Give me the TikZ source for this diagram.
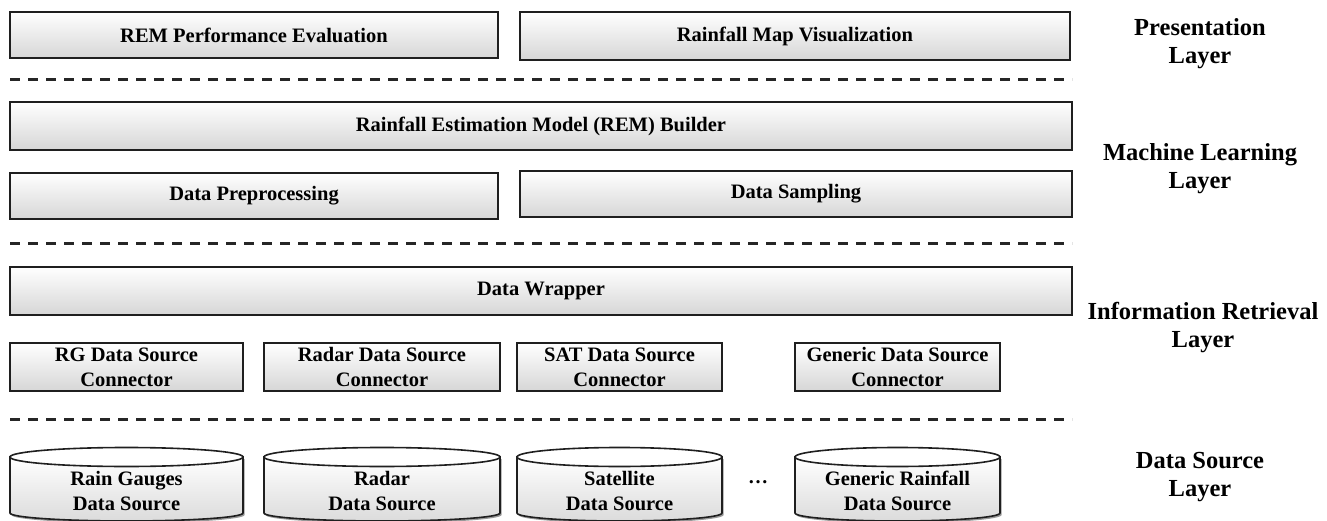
\documentclass[tikz,border=0pt]{standalone}
\usepackage{fontspec}
\setmainfont{Liberation Serif}
\usetikzlibrary{shadows}
\begin{document}
\begin{tikzpicture}[x=1pt,y=-1pt,
  box/.style={draw=black!88, line width=2.2pt, top color=white, bottom color=black!16,
    drop shadow={shadow xshift=1.2pt, shadow yshift=-1.2pt, fill=black!45, opacity=0.8},
    inner sep=0pt, align=center, font=\fontsize{20.5}{25}\selectfont\bfseries},
  cylnode/.style={inner sep=0pt, align=center, font=\fontsize{20.5}{25}\selectfont\bfseries},
  cylbody/.style={draw=black!88, line width=1.6pt, top color=white, bottom color=black!14},
  cyltop/.style={draw=black!88, line width=1.6pt, fill=white},
  sep/.style={line width=3pt, black!85, dash pattern=on 10pt off 8pt},
  layer/.style={align=center, font=\fontsize{24.5}{28}\selectfont\bfseries},
  dots/.style={font=\fontsize{20}{22}\selectfont\bfseries}]
\useasboundingbox (0,0) rectangle (1327,521);

% Presentation layer
\node[box, minimum width=488pt, minimum height=46pt] (pe) at (254,35) {REM Performance Evaluation};
\node[box, minimum width=550pt, minimum height=48pt] (rmv) at (795,36) {Rainfall Map Visualization};
\coordinate (d1a) at (10,80); \coordinate (d1b) at (1072,80);
\draw[sep] (d1a) -- (d1b);

% Machine learning layer
\node[box, minimum width=1062pt, minimum height=48pt] (rem) at (541,126) {Rainfall Estimation Model (REM) Builder};
\node[box, minimum width=488pt, minimum height=46pt] (dp) at (254,196) {Data Preprocessing};
\node[box, minimum width=552pt, minimum height=46pt] (ds) at (796,194) {Data Sampling};
\coordinate (d2a) at (10,244); \coordinate (d2b) at (1072,244);
\draw[sep] (d2a) -- (d2b);

% Information retrieval layer
\node[box, minimum width=1062pt, minimum height=48pt] (dw) at (541,291) {Data Wrapper};
\node[box, minimum width=233pt, minimum height=48pt] (rgc) at (126.5,367) {RG Data Source\\Connector};
\node[box, minimum width=236pt, minimum height=48pt] (rdc) at (382,367) {Radar Data Source\\Connector};
\node[box, minimum width=205pt, minimum height=48pt] (satc) at (619.5,367) {SAT Data Source\\Connector};
\node[box, minimum width=205pt, minimum height=48pt] (genc) at (897.5,367) {Generic Data Source\\Connector};
\coordinate (d3a) at (10,419); \coordinate (d3b) at (1072,419);
\draw[sep] (d3a) -- (d3b);

% Data source layer (cylinders)
\foreach \n/\cx/\w in {rgs/126.5/233, rds/382/236, sats/619.5/205, gens/897.5/205}{
  \pgfmathsetmacro{\hw}{\w/2}
  \fill[black!40] (\cx-\hw+1.5,459) -- (\cx-\hw+1.5,515) arc[start angle=180, end angle=0, x radius=\hw, y radius=8]
     -- (\cx+\hw+1.5,459) -- cycle;
  \path[cylbody] (\cx-\hw,457) -- (\cx-\hw,513) arc[start angle=180, end angle=0, x radius=\hw, y radius=8]
     -- (\cx+\hw,457) -- cycle;
  \draw[cyltop] (\cx,457) ellipse[x radius=\hw, y radius=9.5];
}
\node[cylnode] (rgs) at (126.5,491) {Rain Gauges\\Data Source};
\node[cylnode] (rds) at (382,491) {Radar\\Data Source};
\node[cylnode] (sats) at (619.5,491) {Satellite\\Data Source};
\node[dots] (ell) at (758,482) {\dots};
\node[cylnode] (gens) at (897.5,491) {Generic Rainfall\\Data Source};

% Layer labels
\node[layer] (lp) at (1200,44) {Presentation\\Layer};
\node[layer] (lml) at (1200,169) {Machine Learning\\Layer};
\node[layer] (lir) at (1203,328) {Information Retrieval\\Layer};
\node[layer] (lds) at (1200,477) {Data Source\\Layer};
\end{tikzpicture}
\end{document}
